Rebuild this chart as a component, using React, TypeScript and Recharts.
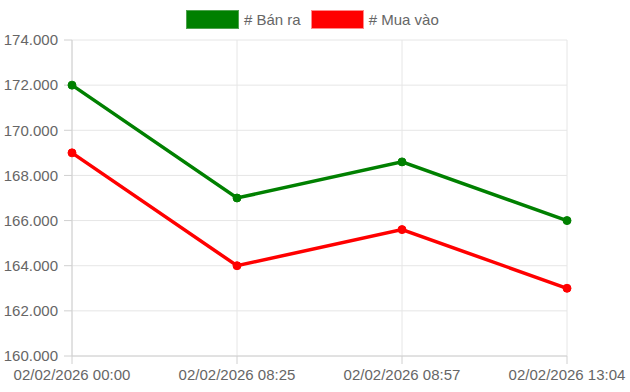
import { LineChart, Line, XAxis, YAxis, CartesianGrid } from 'recharts';

const times = ['02/02/2026 00:00', '02/02/2026 08:25', '02/02/2026 08:57', '02/02/2026 13:04'];
const banRa = [172000, 167000, 168600, 166000];
const muaVao = [169000, 164000, 165600, 163000];
const yTicks = [160000, 162000, 164000, 166000, 168000, 170000, 172000, 174000];

const FONT = '"Liberation Sans", Arial, Helvetica, sans-serif';
const TEXT = '#666';

const data = times.map((t, i) => ({ time: t, ban: banRa[i], mua: muaVao[i] }));

const fmt = (v: number) => v.toLocaleString('de-DE');

const legendItems = [
  { label: '# Bán ra', fill: '#008000', border: '#4fa34f' },
  { label: '# Mua vào', fill: '#ff0000', border: '#ff8a8a' },
];

export default function App() {
  return (
    <div style={{ position: 'absolute', left: 0, top: 0, width: 630, height: 392, fontFamily: FONT }}>
      <div style={{
        position: 'absolute', top: 10, left: 186, display: 'flex',
        gap: 10, fontSize: 15, color: TEXT, zIndex: 2,
      }}>
        {legendItems.map(it => (
          <div key={it.label} style={{ display: 'flex', alignItems: 'center', height: 19 }}>
            <span style={{
              display: 'inline-block', width: 51, height: 17, background: it.fill,
              border: `1px solid ${it.border}`, marginRight: 5,
            }} />
            <span>{it.label}</span>
          </div>
        ))}
      </div>
      <LineChart width={630} height={392} data={data} margin={{ top: 40, right: 63, bottom: 0, left: 0 }}>
        <CartesianGrid stroke="#e6e6e6" strokeWidth={1} />
        <XAxis
          dataKey="time"
          height={36}
          tickSize={8}
          tickMargin={5}
          stroke="#d0d0d0"
          tick={{ fill: TEXT, fontSize: 15, fontFamily: FONT }}
          interval={0}
        />
        <YAxis
          width={72}
          domain={[160000, 174000]}
          ticks={yTicks}
          tickFormatter={fmt}
          tickSize={8}
          tickMargin={6}
          stroke="#d0d0d0"
          tick={{ fill: TEXT, fontSize: 15, fontFamily: FONT }}
          interval={0}
        />
        <Line
          dataKey="ban"
          stroke="#008000"
          strokeWidth={3.5}
          dot={{ r: 4, fill: '#008000', stroke: '#008000', strokeWidth: 1 }}
          isAnimationActive={false}
        />
        <Line
          dataKey="mua"
          stroke="#ff0000"
          strokeWidth={3.5}
          dot={{ r: 4, fill: '#ff0000', stroke: '#ff0000', strokeWidth: 1 }}
          isAnimationActive={false}
        />
      </LineChart>
    </div>
  );
}
